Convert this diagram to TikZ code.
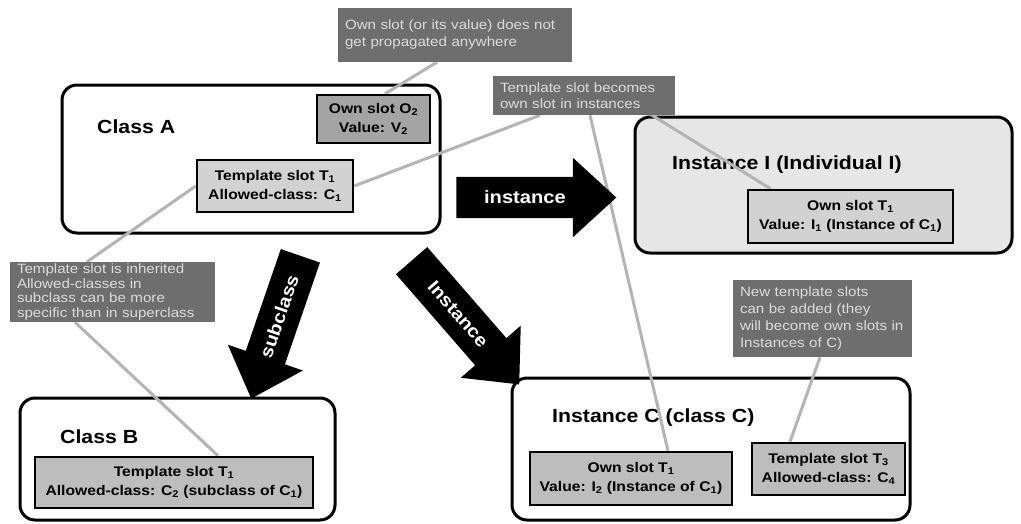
\documentclass[tikz,border=0pt]{standalone}
\usepackage{fontspec}
\setmainfont{Liberation Sans}[FakeStretch=1.12]
\usetikzlibrary{shapes.arrows}
\definecolor{callfill}{HTML}{6E6E6E}
\definecolor{calltext}{HTML}{DCDCDC}
\definecolor{connc}{HTML}{B4B4B4}
\definecolor{slotdark}{HTML}{A4A4A4}
\definecolor{slotlight}{HTML}{D2D2D2}
\definecolor{instfill}{HTML}{E6E6E6}
\pgfdeclarelayer{bg}
\pgfdeclarelayer{mid}
\pgfsetlayers{bg,mid,main}
\tikzset{
  bigbox/.style={draw=black, line width=3pt, rounded corners=15pt, fill=white, inner sep=0pt},
  boxlabel/.style={anchor=west, inner sep=0pt, font=\bfseries\fontsize{19}{22}\selectfont},
  slotbox/.style={draw=black, line width=2.5pt, fill=slotlight, align=center, inner sep=0pt,
    font=\bfseries\fontsize{14}{19}\selectfont},
  callout/.style={fill=callfill, text=calltext, align=left, inner xsep=7pt, inner ysep=0pt,
    font=\fontsize{13.5}{17}\selectfont},
  conn/.style={draw=connc, line width=3pt},
  bigarrow/.style={single arrow, fill=black, text=white, font=\bfseries\fontsize{18}{20}\selectfont,
    single arrow head extend=19pt, single arrow tip angle=85, minimum width=0pt,
    inner ysep=14.5pt, inner xsep=6pt, text height=12pt, text depth=0pt}
}
\begin{document}
\begin{tikzpicture}[x=1pt,y=-1pt]
\useasboundingbox (0,0) rectangle (1021,523);

\begin{pgfonlayer}{bg}
\fill[white] (0,0) rectangle (1021,523);
\node[bigbox, minimum width=378pt, minimum height=148pt] (classA) at (251,159) {};
\node[bigbox, fill=instfill, minimum width=377pt, minimum height=136pt] (instI) at (823.5,185) {};
\node[bigbox, minimum width=315pt, minimum height=122pt] (classB) at (177.5,459) {};
\node[bigbox, minimum width=398pt, minimum height=142pt] (instC) at (711,449) {};
\node[boxlabel] (labA) at (97,127) {Class A};
\node[boxlabel] (labI) at (672,165) {Instance I (Individual I)};
\node[boxlabel] (labB) at (60,437) {Class B};
\node[boxlabel] (labC) at (552,418) {Instance C (class C)};
\end{pgfonlayer}

% slots
\node[slotbox, fill=slotdark, minimum width=113pt, minimum height=48pt] (o2) at (373.5,119)
  {Own slot O\textsubscript{2}\\Value: V\textsubscript{2}};
\node[slotbox, minimum width=156pt, minimum height=52pt] (t1a) at (275,186)
  {Template slot T\textsubscript{1}\\Allowed-class: C\textsubscript{1}};
\node[slotbox, minimum width=205pt, minimum height=53pt] (t1i) at (850.5,216.5)
  {Own slot T\textsubscript{1}\\Value: I\textsubscript{1} (Instance of C\textsubscript{1})};
\node[slotbox, fill=slotlight!90!black, minimum width=278pt, minimum height=51pt] (t1b) at (174,482.5)
  {Template slot T\textsubscript{1}\\Allowed-class: C\textsubscript{2} (subclass of C\textsubscript{1})};
\node[slotbox, fill=slotlight!90!black, minimum width=202pt, minimum height=53pt] (t1c) at (631,478.5)
  {Own slot T\textsubscript{1}\\Value: I\textsubscript{2} (Instance of C\textsubscript{1})};
\node[slotbox, fill=slotlight!90!black, minimum width=153pt, minimum height=52pt] (t3c) at (828.5,469)
  {Template slot T\textsubscript{3}\\Allowed-class: C\textsubscript{4}};

% callouts
\node[callout, text width=220pt, minimum height=54pt] (c1) at (455,35)
  {Own slot (or its value) does not\\get propagated anywhere};
\node[callout, text width=168pt, minimum height=39pt, font=\fontsize{13.5}{16}\selectfont] (c2) at (584,95.5)
  {Template slot becomes\\own slot in instances};
\node[callout, text width=191pt, minimum height=60pt, font=\fontsize{13.5}{14.5}\selectfont] (c3) at (112.5,292)
  {Template slot is inherited\\Allowed-classes in\\subclass can be more\\specific than in superclass};
\node[callout, text width=165pt, minimum height=77pt, font=\fontsize{13.5}{17}\selectfont] (c4) at (822.5,318.5)
  {New template slots\\can be added (they\\will become own slots in\\Instances of C)};

% connectors
\begin{pgfonlayer}{mid}
\draw[conn] ([xshift=-18pt]c1.south) -- ([xshift=11.5pt]o2.north);
\draw[conn] (t1a.east) -- ([xshift=-44pt]c2.south);
\draw[conn] ([xshift=6pt]c2.south) -- ([xshift=37pt]t1c.north);
\draw[conn] ([xshift=68pt]c2.south) -- ([xshift=-80pt]t1i.north);
\draw[conn] (t1a.west) -- ([xshift=-25.5pt]c3.north);
\draw[conn] ([xshift=-37.5pt]c3.south) -- ([xshift=44pt]t1b.north);
\draw[conn] ([xshift=-2.5pt]c4.south) -- ([xshift=-38.5pt]t3c.north);
\end{pgfonlayer}

% big arrows
\node[bigarrow, minimum height=160pt] (arrI) at (525,197.5) {instance};
\node[bigarrow, minimum height=151pt, rotate=71, shape border rotate=180] (arrSub) at (279.5,316.5) {subclass};
\node[bigarrow, minimum height=164pt, rotate=-49] (arrC) at (458,314) {Instance};
\end{tikzpicture}
\end{document}
